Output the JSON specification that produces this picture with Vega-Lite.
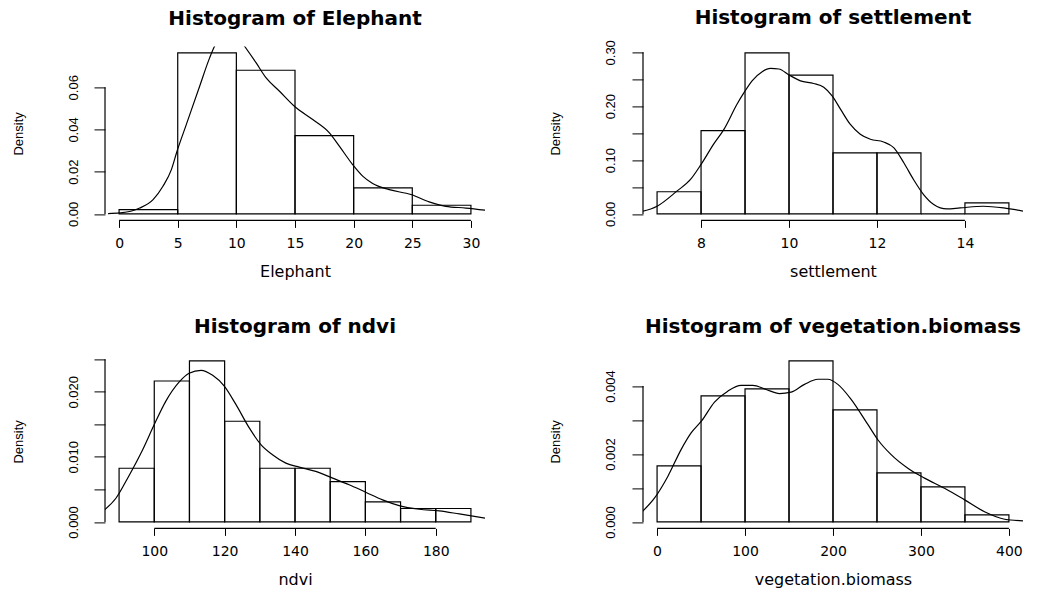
{
  "$schema": "https://vega.github.io/schema/vega-lite/v6.json",
  "background": "white",
  "padding": {"left": 12, "top": 7.4, "right": 2, "bottom": 2},
  "datasets": {
    "elephant_bins": [
      {"lo": 0, "hi": 5, "density": 0.0020619},
      {"lo": 5, "hi": 10, "density": 0.0762887},
      {"lo": 10, "hi": 15, "density": 0.0680412},
      {"lo": 15, "hi": 20, "density": 0.0371134},
      {"lo": 20, "hi": 25, "density": 0.0123711},
      {"lo": 25, "hi": 30, "density": 0.0041237}
    ],
    "elephant_kde": [
      {"x": -0.94, "y": 0.0002}, {"x": 0.06, "y": 0.0005}, {"x": 1.0, "y": 0.0013}, {"x": 1.76, "y": 0.0028},
      {"x": 2.9, "y": 0.0068}, {"x": 3.74, "y": 0.0131}, {"x": 4.46, "y": 0.021}, {"x": 4.94, "y": 0.0297},
      {"x": 5.73, "y": 0.0423}, {"x": 6.87, "y": 0.0605}, {"x": 7.72, "y": 0.0739}, {"x": 8.14, "y": 0.0794},
      {"x": 8.8, "y": 0.0845}, {"x": 9.4, "y": 0.0865}, {"x": 10.0, "y": 0.0848}, {"x": 10.7, "y": 0.0794},
      {"x": 11.69, "y": 0.0715}, {"x": 12.54, "y": 0.0644}, {"x": 13.68, "y": 0.0581}, {"x": 14.95, "y": 0.051},
      {"x": 16.51, "y": 0.0447}, {"x": 17.93, "y": 0.0384}, {"x": 18.78, "y": 0.0321}, {"x": 19.91, "y": 0.0234},
      {"x": 20.77, "y": 0.0179}, {"x": 21.62, "y": 0.0144}, {"x": 23.04, "y": 0.0115}, {"x": 24.89, "y": 0.0092},
      {"x": 26.44, "y": 0.0057}, {"x": 27.86, "y": 0.0036}, {"x": 29.57, "y": 0.0028}, {"x": 31.4, "y": 0.0017}
    ],
    "settlement_bins": [
      {"lo": 7, "hi": 8, "density": 0.0412371},
      {"lo": 8, "hi": 9, "density": 0.1546392},
      {"lo": 9, "hi": 10, "density": 0.2989691},
      {"lo": 10, "hi": 11, "density": 0.257732},
      {"lo": 11, "hi": 12, "density": 0.1134021},
      {"lo": 12, "hi": 13, "density": 0.1134021},
      {"lo": 13, "hi": 14, "density": 0},
      {"lo": 14, "hi": 15, "density": 0.0206186}
    ],
    "settlement_kde": [
      {"x": 6.6, "y": 0.0035}, {"x": 7.0, "y": 0.0143}, {"x": 7.45, "y": 0.0423}, {"x": 7.76, "y": 0.064},
      {"x": 8.0, "y": 0.092}, {"x": 8.29, "y": 0.13}, {"x": 8.52, "y": 0.157}, {"x": 8.82, "y": 0.204},
      {"x": 8.98, "y": 0.2255}, {"x": 9.16, "y": 0.247}, {"x": 9.39, "y": 0.264}, {"x": 9.58, "y": 0.27},
      {"x": 9.77, "y": 0.269}, {"x": 10.0, "y": 0.258}, {"x": 10.26, "y": 0.247}, {"x": 10.56, "y": 0.242},
      {"x": 10.79, "y": 0.235}, {"x": 10.98, "y": 0.219}, {"x": 11.17, "y": 0.1945}, {"x": 11.39, "y": 0.1666},
      {"x": 11.62, "y": 0.148}, {"x": 11.85, "y": 0.1386}, {"x": 12.15, "y": 0.1336}, {"x": 12.38, "y": 0.123},
      {"x": 12.61, "y": 0.095}, {"x": 12.83, "y": 0.064}, {"x": 13.06, "y": 0.036}, {"x": 13.29, "y": 0.0175},
      {"x": 13.59, "y": 0.0093}, {"x": 13.89, "y": 0.0112}, {"x": 14.42, "y": 0.0143}, {"x": 14.88, "y": 0.0112},
      {"x": 15.4, "y": 0.004}
    ],
    "ndvi_bins": [
      {"lo": 90, "hi": 100, "density": 0.0082474},
      {"lo": 100, "hi": 110, "density": 0.0216495},
      {"lo": 110, "hi": 120, "density": 0.0247423},
      {"lo": 120, "hi": 130, "density": 0.0154639},
      {"lo": 130, "hi": 140, "density": 0.0082474},
      {"lo": 140, "hi": 150, "density": 0.0082474},
      {"lo": 150, "hi": 160, "density": 0.0061856},
      {"lo": 160, "hi": 170, "density": 0.0030928},
      {"lo": 170, "hi": 180, "density": 0.0020619},
      {"lo": 180, "hi": 190, "density": 0.0020619}
    ],
    "ndvi_kde": [
      {"x": 85.5, "y": 0.0017}, {"x": 89.1, "y": 0.00364}, {"x": 92.7, "y": 0.00699}, {"x": 96.7, "y": 0.0111},
      {"x": 100, "y": 0.01496}, {"x": 103.3, "y": 0.01856}, {"x": 107.1, "y": 0.0215}, {"x": 109.9, "y": 0.02283},
      {"x": 113.3, "y": 0.02329}, {"x": 116.6, "y": 0.02252}, {"x": 119.9, "y": 0.02087}, {"x": 123.2, "y": 0.01805},
      {"x": 127.0, "y": 0.01444}, {"x": 130.3, "y": 0.01188}, {"x": 133.6, "y": 0.01033}, {"x": 137.4, "y": 0.00904},
      {"x": 141.2, "y": 0.00842}, {"x": 145.9, "y": 0.00776}, {"x": 150.7, "y": 0.00673}, {"x": 155.4, "y": 0.00571},
      {"x": 160.1, "y": 0.00457}, {"x": 164.9, "y": 0.00339}, {"x": 169.6, "y": 0.00251}, {"x": 175.3, "y": 0.00195},
      {"x": 181.0, "y": 0.0017}, {"x": 186.7, "y": 0.00123}, {"x": 194.5, "y": 0.00055}
    ],
    "veg_bins": [
      {"lo": 0, "hi": 50, "density": 0.0016495},
      {"lo": 50, "hi": 100, "density": 0.0037113},
      {"lo": 100, "hi": 150, "density": 0.0039175},
      {"lo": 150, "hi": 200, "density": 0.0047423},
      {"lo": 200, "hi": 250, "density": 0.003299},
      {"lo": 250, "hi": 300, "density": 0.0014433},
      {"lo": 300, "hi": 350, "density": 0.0010309},
      {"lo": 350, "hi": 400, "density": 0.0002062}
    ],
    "veg_kde": [
      {"x": -17, "y": 0.0003}, {"x": -3.0, "y": 0.0007}, {"x": 12.2, "y": 0.00134}, {"x": 27.3, "y": 0.00213},
      {"x": 38.7, "y": 0.00262}, {"x": 50.8, "y": 0.00298}, {"x": 65.3, "y": 0.00353}, {"x": 80.4, "y": 0.00385},
      {"x": 95.5, "y": 0.00402}, {"x": 108.8, "y": 0.00402}, {"x": 124.0, "y": 0.0039}, {"x": 139.2, "y": 0.00378},
      {"x": 152.4, "y": 0.00382}, {"x": 167.6, "y": 0.00405}, {"x": 182.8, "y": 0.0042}, {"x": 194.1, "y": 0.0042},
      {"x": 205.5, "y": 0.00405}, {"x": 220.6, "y": 0.00361}, {"x": 239.6, "y": 0.00287}, {"x": 251.0, "y": 0.00242},
      {"x": 266.1, "y": 0.00198}, {"x": 285.1, "y": 0.00158}, {"x": 304.1, "y": 0.00129}, {"x": 326.8, "y": 0.00099},
      {"x": 349.6, "y": 0.00065}, {"x": 372.3, "y": 0.0003}, {"x": 395.1, "y": 0.00008}, {"x": 418, "y": 0.00003}
    ]
  },
  "columns": 2,
  "spacing": {"row": 134, "column": 158},
  "bounds": "flush",
  "concat": [
    {
      "title": {"text": "Histogram of Elephant"},
      "width": 380, "height": 174,
      "layer": [
        {
          "data": {"name": "elephant_bins"},
          "mark": {"type": "rect", "fill": "white", "fillOpacity": 0, "stroke": "black", "strokeWidth": 1.2},
          "encoding": {
            "x": {"field": "lo", "type": "quantitative", "scale": {"domain": [-1.2, 31.2], "nice": false, "zero": false},
                  "axis": {"values": [0, 5, 10, 15, 20, 25, 30], "title": "Elephant", "titleX": 190, "titleY": 56}},
            "x2": {"field": "hi"},
            "y": {"field": "density", "type": "quantitative", "scale": {"domain": [-0.0030515, 0.0793401], "nice": false, "zero": false},
                  "axis": {"values": [0, 0.02, 0.04, 0.06], "format": ".2f", "title": "Density", "titleX": -83, "titleY": 87}},
            "y2": {"datum": 0}
          }
        },
        {
          "data": {"name": "elephant_kde"},
          "mark": {"type": "line", "clip": true, "color": "black", "strokeWidth": 1.2, "interpolate": "monotone"},
          "encoding": {
            "x": {"field": "x", "type": "quantitative", "scale": {"domain": [-1.2, 31.2], "nice": false, "zero": false},
                  "axis": {"values": [0, 5, 10, 15, 20, 25, 30], "title": "Elephant", "titleX": 190, "titleY": 56}},
            "y": {"field": "y", "type": "quantitative", "scale": {"domain": [-0.0030515, 0.0793401], "nice": false, "zero": false},
                  "axis": {"values": [0, 0.02, 0.04, 0.06], "format": ".2f", "title": "Density", "titleX": -83, "titleY": 87}}
          }
        },
        {
          "data": {"values": [{}]},
          "mark": {"type": "rule", "color": "black", "strokeWidth": 1.2},
          "encoding": {
            "x": {"datum": 0, "type": "quantitative", "scale": {"domain": [-1.2, 31.2], "nice": false, "zero": false},
                  "axis": {"values": [0, 5, 10, 15, 20, 25, 30], "title": "Elephant", "titleX": 190, "titleY": 56}},
            "x2": {"datum": 30},
            "y": {"datum": -0.0030515, "type": "quantitative", "scale": {"domain": [-0.0030515, 0.0793401], "nice": false, "zero": false},
                  "axis": {"values": [0, 0.02, 0.04, 0.06], "format": ".2f", "title": "Density", "titleX": -83, "titleY": 87}}
          }
        },
        {
          "data": {"values": [{}]},
          "mark": {"type": "rule", "color": "black", "strokeWidth": 1.2},
          "encoding": {
            "x": {"datum": -1.2, "type": "quantitative", "scale": {"domain": [-1.2, 31.2], "nice": false, "zero": false},
                  "axis": {"values": [0, 5, 10, 15, 20, 25, 30], "title": "Elephant", "titleX": 190, "titleY": 56}},
            "y": {"datum": 0, "type": "quantitative", "scale": {"domain": [-0.0030515, 0.0793401], "nice": false, "zero": false},
                  "axis": {"values": [0, 0.02, 0.04, 0.06], "format": ".2f", "title": "Density", "titleX": -83, "titleY": 87}},
            "y2": {"datum": 0.06}
          }
        }
      ]
    },
    {
      "title": {"text": "Histogram of settlement", "offset": 11.4},
      "width": 380, "height": 174,
      "layer": [
        {
          "data": {"name": "settlement_bins"},
          "mark": {"type": "rect", "fill": "white", "fillOpacity": 0, "stroke": "black", "strokeWidth": 1.2},
          "encoding": {
            "x": {"field": "lo", "type": "quantitative", "scale": {"domain": [6.68, 15.32], "nice": false, "zero": false},
                  "axis": {"values": [8, 10, 12, 14], "title": "settlement", "titleX": 190, "titleY": 56}},
            "x2": {"field": "hi"},
            "y": {"field": "density", "type": "quantitative", "scale": {"domain": [-0.0119588, 0.3109279], "nice": false, "zero": false},
                  "axis": {"values": [0, 0.05, 0.1, 0.15, 0.2, 0.25, 0.3], "format": ".2f", "labelExpr": "indexof(['0.00','0.10','0.20','0.30'], datum.label) >= 0 ? datum.label : ''", "title": "Density", "titleX": -83, "titleY": 87}},
            "y2": {"datum": 0}
          }
        },
        {
          "data": {"name": "settlement_kde"},
          "mark": {"type": "line", "clip": true, "color": "black", "strokeWidth": 1.2, "interpolate": "monotone"},
          "encoding": {
            "x": {"field": "x", "type": "quantitative", "scale": {"domain": [6.68, 15.32], "nice": false, "zero": false},
                  "axis": {"values": [8, 10, 12, 14], "title": "settlement", "titleX": 190, "titleY": 56}},
            "y": {"field": "y", "type": "quantitative", "scale": {"domain": [-0.0119588, 0.3109279], "nice": false, "zero": false},
                  "axis": {"values": [0, 0.05, 0.1, 0.15, 0.2, 0.25, 0.3], "format": ".2f", "labelExpr": "indexof(['0.00','0.10','0.20','0.30'], datum.label) >= 0 ? datum.label : ''", "title": "Density", "titleX": -83, "titleY": 87}}
          }
        },
        {
          "data": {"values": [{}]},
          "mark": {"type": "rule", "color": "black", "strokeWidth": 1.2},
          "encoding": {
            "x": {"datum": 8, "type": "quantitative", "scale": {"domain": [6.68, 15.32], "nice": false, "zero": false},
                  "axis": {"values": [8, 10, 12, 14], "title": "settlement", "titleX": 190, "titleY": 56}},
            "x2": {"datum": 14},
            "y": {"datum": -0.0119588, "type": "quantitative", "scale": {"domain": [-0.0119588, 0.3109279], "nice": false, "zero": false},
                  "axis": {"values": [0, 0.05, 0.1, 0.15, 0.2, 0.25, 0.3], "format": ".2f", "labelExpr": "indexof(['0.00','0.10','0.20','0.30'], datum.label) >= 0 ? datum.label : ''", "title": "Density", "titleX": -83, "titleY": 87}}
          }
        },
        {
          "data": {"values": [{}]},
          "mark": {"type": "rule", "color": "black", "strokeWidth": 1.2},
          "encoding": {
            "x": {"datum": 6.68, "type": "quantitative", "scale": {"domain": [6.68, 15.32], "nice": false, "zero": false},
                  "axis": {"values": [8, 10, 12, 14], "title": "settlement", "titleX": 190, "titleY": 56}},
            "y": {"datum": 0, "type": "quantitative", "scale": {"domain": [-0.0119588, 0.3109279], "nice": false, "zero": false},
                  "axis": {"values": [0, 0.05, 0.1, 0.15, 0.2, 0.25, 0.3], "format": ".2f", "labelExpr": "indexof(['0.00','0.10','0.20','0.30'], datum.label) >= 0 ? datum.label : ''", "title": "Density", "titleX": -83, "titleY": 87}},
            "y2": {"datum": 0.3}
          }
        }
      ]
    },
    {
      "title": {"text": "Histogram of ndvi"},
      "width": 380, "height": 174,
      "layer": [
        {
          "data": {"name": "ndvi_bins"},
          "mark": {"type": "rect", "fill": "white", "fillOpacity": 0, "stroke": "black", "strokeWidth": 1.2},
          "encoding": {
            "x": {"field": "lo", "type": "quantitative", "scale": {"domain": [86, 194], "nice": false, "zero": false},
                  "axis": {"values": [100, 120, 140, 160, 180], "title": "ndvi", "titleX": 190, "titleY": 56}},
            "x2": {"field": "hi"},
            "y": {"field": "density", "type": "quantitative", "scale": {"domain": [-0.0009897, 0.025732], "nice": false, "zero": false},
                  "axis": {"values": [0, 0.005, 0.01, 0.015, 0.02, 0.025], "format": ".3f", "labelExpr": "indexof(['0.000','0.010','0.020'], datum.label) >= 0 ? datum.label : ''", "title": "Density", "titleX": -83, "titleY": 87}},
            "y2": {"datum": 0}
          }
        },
        {
          "data": {"name": "ndvi_kde"},
          "mark": {"type": "line", "clip": true, "color": "black", "strokeWidth": 1.2, "interpolate": "monotone"},
          "encoding": {
            "x": {"field": "x", "type": "quantitative", "scale": {"domain": [86, 194], "nice": false, "zero": false},
                  "axis": {"values": [100, 120, 140, 160, 180], "title": "ndvi", "titleX": 190, "titleY": 56}},
            "y": {"field": "y", "type": "quantitative", "scale": {"domain": [-0.0009897, 0.025732], "nice": false, "zero": false},
                  "axis": {"values": [0, 0.005, 0.01, 0.015, 0.02, 0.025], "format": ".3f", "labelExpr": "indexof(['0.000','0.010','0.020'], datum.label) >= 0 ? datum.label : ''", "title": "Density", "titleX": -83, "titleY": 87}}
          }
        },
        {
          "data": {"values": [{}]},
          "mark": {"type": "rule", "color": "black", "strokeWidth": 1.2},
          "encoding": {
            "x": {"datum": 100, "type": "quantitative", "scale": {"domain": [86, 194], "nice": false, "zero": false},
                  "axis": {"values": [100, 120, 140, 160, 180], "title": "ndvi", "titleX": 190, "titleY": 56}},
            "x2": {"datum": 180},
            "y": {"datum": -0.0009897, "type": "quantitative", "scale": {"domain": [-0.0009897, 0.025732], "nice": false, "zero": false},
                  "axis": {"values": [0, 0.005, 0.01, 0.015, 0.02, 0.025], "format": ".3f", "labelExpr": "indexof(['0.000','0.010','0.020'], datum.label) >= 0 ? datum.label : ''", "title": "Density", "titleX": -83, "titleY": 87}}
          }
        },
        {
          "data": {"values": [{}]},
          "mark": {"type": "rule", "color": "black", "strokeWidth": 1.2},
          "encoding": {
            "x": {"datum": 86, "type": "quantitative", "scale": {"domain": [86, 194], "nice": false, "zero": false},
                  "axis": {"values": [100, 120, 140, 160, 180], "title": "ndvi", "titleX": 190, "titleY": 56}},
            "y": {"datum": 0, "type": "quantitative", "scale": {"domain": [-0.0009897, 0.025732], "nice": false, "zero": false},
                  "axis": {"values": [0, 0.005, 0.01, 0.015, 0.02, 0.025], "format": ".3f", "labelExpr": "indexof(['0.000','0.010','0.020'], datum.label) >= 0 ? datum.label : ''", "title": "Density", "titleX": -83, "titleY": 87}},
            "y2": {"datum": 0.025}
          }
        }
      ]
    },
    {
      "title": {"text": "Histogram of vegetation.biomass"},
      "width": 380, "height": 174,
      "layer": [
        {
          "data": {"name": "veg_bins"},
          "mark": {"type": "rect", "fill": "white", "fillOpacity": 0, "stroke": "black", "strokeWidth": 1.2},
          "encoding": {
            "x": {"field": "lo", "type": "quantitative", "scale": {"domain": [-16, 416], "nice": false, "zero": false},
                  "axis": {"values": [0, 100, 200, 300, 400], "title": "vegetation.biomass", "titleX": 190, "titleY": 56}},
            "x2": {"field": "hi"},
            "y": {"field": "density", "type": "quantitative", "scale": {"domain": [-0.0001897, 0.004932], "nice": false, "zero": false},
                  "axis": {"values": [0, 0.001, 0.002, 0.003, 0.004], "format": ".3f", "labelExpr": "indexof(['0.000','0.002','0.004'], datum.label) >= 0 ? datum.label : ''", "title": "Density", "titleX": -83, "titleY": 87}},
            "y2": {"datum": 0}
          }
        },
        {
          "data": {"name": "veg_kde"},
          "mark": {"type": "line", "clip": true, "color": "black", "strokeWidth": 1.2, "interpolate": "monotone"},
          "encoding": {
            "x": {"field": "x", "type": "quantitative", "scale": {"domain": [-16, 416], "nice": false, "zero": false},
                  "axis": {"values": [0, 100, 200, 300, 400], "title": "vegetation.biomass", "titleX": 190, "titleY": 56}},
            "y": {"field": "y", "type": "quantitative", "scale": {"domain": [-0.0001897, 0.004932], "nice": false, "zero": false},
                  "axis": {"values": [0, 0.001, 0.002, 0.003, 0.004], "format": ".3f", "labelExpr": "indexof(['0.000','0.002','0.004'], datum.label) >= 0 ? datum.label : ''", "title": "Density", "titleX": -83, "titleY": 87}}
          }
        },
        {
          "data": {"values": [{}]},
          "mark": {"type": "rule", "color": "black", "strokeWidth": 1.2},
          "encoding": {
            "x": {"datum": 0, "type": "quantitative", "scale": {"domain": [-16, 416], "nice": false, "zero": false},
                  "axis": {"values": [0, 100, 200, 300, 400], "title": "vegetation.biomass", "titleX": 190, "titleY": 56}},
            "x2": {"datum": 400},
            "y": {"datum": -0.0001897, "type": "quantitative", "scale": {"domain": [-0.0001897, 0.004932], "nice": false, "zero": false},
                  "axis": {"values": [0, 0.001, 0.002, 0.003, 0.004], "format": ".3f", "labelExpr": "indexof(['0.000','0.002','0.004'], datum.label) >= 0 ? datum.label : ''", "title": "Density", "titleX": -83, "titleY": 87}}
          }
        },
        {
          "data": {"values": [{}]},
          "mark": {"type": "rule", "color": "black", "strokeWidth": 1.2},
          "encoding": {
            "x": {"datum": -16, "type": "quantitative", "scale": {"domain": [-16, 416], "nice": false, "zero": false},
                  "axis": {"values": [0, 100, 200, 300, 400], "title": "vegetation.biomass", "titleX": 190, "titleY": 56}},
            "y": {"datum": 0, "type": "quantitative", "scale": {"domain": [-0.0001897, 0.004932], "nice": false, "zero": false},
                  "axis": {"values": [0, 0.001, 0.002, 0.003, 0.004], "format": ".3f", "labelExpr": "indexof(['0.000','0.002','0.004'], datum.label) >= 0 ? datum.label : ''", "title": "Density", "titleX": -83, "titleY": 87}},
            "y2": {"datum": 0.004}
          }
        }
      ]
    }
  ],
  "config": {
    "view": {"stroke": null},
    "axis": {"domain": false, "grid": false, "tickColor": "black", "tickWidth": 1, "labelColor": "black", "titleColor": "black", "titleFontWeight": "normal", "labelOverlap": false, "labelFlush": false},
    "axisX": {"tickSize": 7, "labelFont": "DejaVu Sans", "labelFontSize": 14, "labelPadding": 9, "labelBaseline": "top", "labelAngle": 0, "labelAlign": "center", "titleFont": "DejaVu Sans", "titleFontSize": 16, "titleBaseline": "alphabetic", "titleAlign": "center"},
    "axisY": {"tickSize": 11, "labelFont": "Liberation Sans", "labelFontSize": 13, "labelAngle": 270, "labelAlign": "center", "labelBaseline": "alphabetic", "labelPadding": 17, "titleFont": "Liberation Sans", "titleFontSize": 13, "titleAngle": 270, "titleAlign": "center", "titleBaseline": "alphabetic"},
    "title": {"font": "DejaVu Sans", "fontSize": 20, "fontWeight": "bold", "color": "black", "offset": 17.4, "baseline": "alphabetic", "frame": "group", "anchor": "middle"}
  }
}
